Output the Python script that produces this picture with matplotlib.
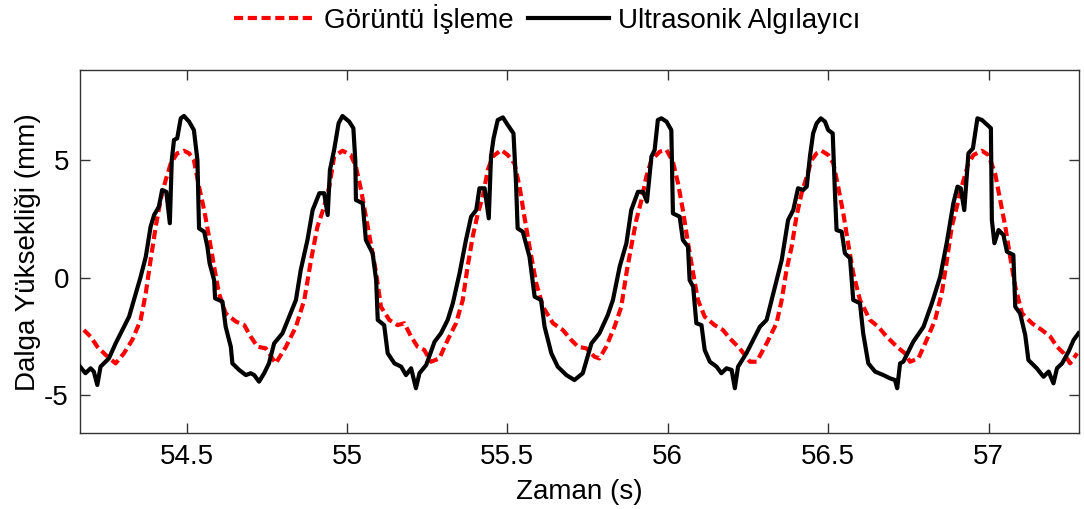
import matplotlib
matplotlib.use('Agg')
import matplotlib.pyplot as plt

# zaman (s) ve dalga yuksekligi (mm)
t_ultra = [
    54.164, 54.185, 54.201, 54.211, 54.222, 54.232, 54.258, 54.279, 54.300, 54.321,
    54.336, 54.357, 54.373, 54.388, 54.399, 54.414, 54.424, 54.437, 54.448, 54.454,
    54.461, 54.471, 54.482, 54.492, 54.508, 54.523, 54.534, 54.539, 54.555, 54.565,
    54.572, 54.586, 54.589, 54.612, 54.622, 54.638, 54.643, 54.664, 54.685, 54.700,
    54.711, 54.726, 54.742, 54.757, 54.773, 54.799, 54.820, 54.841, 54.856, 54.877,
    54.893, 54.914, 54.929, 54.940, 54.947, 54.960, 54.974, 54.986, 55.007, 55.020,
    55.026, 55.028, 55.049, 55.059, 55.080, 55.091, 55.096, 55.116, 55.127, 55.148,
    55.169, 55.184, 55.200, 55.215, 55.226, 55.247, 55.273, 55.293, 55.314, 55.330,
    55.351, 55.371, 55.387, 55.403, 55.413, 55.429, 55.442, 55.449, 55.457, 55.470,
    55.486, 55.501, 55.519, 55.527, 55.532, 55.548, 55.569, 55.585, 55.605, 55.616,
    55.637, 55.657, 55.684, 55.709, 55.735, 55.762, 55.787, 55.813, 55.829, 55.850,
    55.871, 55.886, 55.907, 55.923, 55.935, 55.949, 55.959, 55.969, 55.980, 55.996,
    56.011, 56.016, 56.037, 56.047, 56.063, 56.068, 56.079, 56.089, 56.105, 56.115,
    56.131, 56.152, 56.167, 56.183, 56.199, 56.209, 56.219, 56.245, 56.266, 56.287,
    56.308, 56.334, 56.355, 56.375, 56.391, 56.406, 56.422, 56.433, 56.443, 56.453,
    56.464, 56.477, 56.490, 56.500, 56.514, 56.521, 56.526, 56.542, 56.552, 56.568,
    56.578, 56.599, 56.609, 56.625, 56.646, 56.672, 56.693, 56.708, 56.715, 56.724,
    56.734, 56.765, 56.797, 56.823, 56.849, 56.870, 56.890, 56.903, 56.913, 56.924,
    56.937, 56.951, 56.965, 56.979, 57.007, 57.010, 57.018, 57.031, 57.046, 57.057,
    57.077, 57.083, 57.098, 57.114, 57.124, 57.150, 57.171, 57.187, 57.202, 57.213,
    57.229, 57.249, 57.265, 57.280,
]
y_ultra = [
    -3.72, -4.07, -3.86, -4.00, -4.57, -3.79, -3.44, -2.80, -2.23, -1.66,
    -0.95, 0.04, 0.89, 2.17, 2.67, 3.03, 3.74, 3.66, 2.32, 5.01,
    5.87, 5.94, 6.79, 6.89, 6.65, 6.29, 5.01, 2.10, 1.96, 1.32,
    0.61, -0.10, -0.88, -1.02, -2.09, -2.94, -3.65, -3.93, -4.15, -4.07,
    -4.15, -4.43, -4.07, -3.65, -2.80, -2.37, -1.66, -0.95, 0.33, 1.61,
    2.88, 3.60, 3.60, 2.67, 4.59, 5.44, 6.58, 6.89, 6.65, 6.37,
    5.01, 3.31, 3.17, 1.61, 1.04, -0.10, -1.80, -2.02, -3.22, -3.65,
    -3.79, -4.15, -3.86, -4.71, -4.07, -3.72, -2.73, -2.37, -1.80, -1.09,
    0.19, 1.61, 2.60, 2.88, 3.81, 3.81, 2.53, 5.16, 5.94, 6.72,
    6.83, 6.51, 6.15, 4.02, 2.10, 1.96, 0.89, -0.81, -0.95, -2.09,
    -3.22, -3.79, -4.15, -4.36, -4.07, -2.80, -2.37, -1.59, -0.95, 0.47,
    1.47, 2.88, 3.66, 3.66, 3.24, 5.16, 5.44, 6.72, 6.79, 6.65,
    6.29, 2.74, 2.60, 1.61, 1.32, -0.10, -0.38, -1.94, -2.02, -3.08,
    -3.58, -3.79, -4.07, -3.86, -3.93, -4.71, -3.79, -3.22, -2.65, -2.09,
    -1.80, -0.38, 0.75, 2.46, 2.88, 3.81, 3.74, 3.88, 5.16, 6.15,
    6.58, 6.79, 6.65, 6.29, 6.15, 3.60, 2.03, 1.96, 1.04, 0.83,
    -0.95, -1.09, -2.37, -3.65, -4.00, -4.15, -4.29, -4.36, -4.71, -3.65,
    -3.58, -2.73, -2.09, -1.09, 0.04, 1.53, 3.17, 3.88, 3.81, 2.88,
    5.30, 5.51, 6.79, 6.72, 6.37, 2.46, 1.47, 2.03, 1.82, 1.11,
    0.97, -1.24, -1.52, -2.44, -3.51, -3.86, -4.22, -4.00, -4.50, -3.86,
    -3.65, -3.15, -2.65, -2.37,
]

t_goruntu = [
    54.180, 54.201, 54.222, 54.248, 54.279, 54.305, 54.331, 54.357, 54.373, 54.388,
    54.404, 54.419, 54.435, 54.451, 54.471, 54.492, 54.508, 54.523, 54.539, 54.555,
    54.570, 54.586, 54.601, 54.622, 54.654, 54.680, 54.700, 54.721, 54.747, 54.778,
    54.810, 54.841, 54.867, 54.888, 54.908, 54.929, 54.945, 54.960, 54.986, 55.012,
    55.028, 55.044, 55.059, 55.080, 55.091, 55.106, 55.132, 55.158, 55.179, 55.200,
    55.220, 55.241, 55.262, 55.288, 55.314, 55.340, 55.361, 55.376, 55.392, 55.408,
    55.423, 55.439, 55.454, 55.481, 55.501, 55.522, 55.538, 55.553, 55.569, 55.590,
    55.611, 55.642, 55.673, 55.699, 55.720, 55.746, 55.772, 55.787, 55.808, 55.834,
    55.855, 55.871, 55.886, 55.902, 55.918, 55.933, 55.949, 55.975, 55.996, 56.016,
    56.032, 56.047, 56.063, 56.079, 56.094, 56.115, 56.146, 56.172, 56.193, 56.224,
    56.256, 56.277, 56.308, 56.339, 56.355, 56.370, 56.386, 56.401, 56.417, 56.433,
    56.448, 56.464, 56.479, 56.500, 56.516, 56.531, 56.547, 56.562, 56.578, 56.599,
    56.630, 56.656, 56.682, 56.714, 56.739, 56.755, 56.781, 56.807, 56.833, 56.854,
    56.870, 56.885, 56.901, 56.916, 56.937, 56.953, 56.979, 56.999, 57.020, 57.036,
    57.052, 57.067, 57.083, 57.104, 57.135, 57.166, 57.192, 57.213, 57.234, 57.254,
    57.276,
]
y_goruntu = [
    -2.23, -2.51, -2.94, -3.29, -3.65, -3.22, -2.65, -1.80, -0.66, 0.75,
    2.17, 3.31, 4.16, 4.87, 5.30, 5.41, 5.30, 5.01, 3.88, 2.88,
    1.75, 0.47, -0.66, -1.52, -1.87, -2.02, -2.51, -2.94, -3.01, -3.65,
    -2.94, -2.09, -0.95, 0.75, 2.17, 3.03, 3.88, 5.16, 5.41, 5.23,
    4.73, 3.74, 2.60, 1.04, 0.19, -1.24, -1.80, -2.02, -1.94, -2.51,
    -2.94, -3.08, -3.58, -3.44, -2.65, -1.94, -0.95, 0.47, 1.75, 2.74,
    3.45, 4.59, 5.16, 5.44, 5.23, 4.87, 3.88, 2.60, 1.32, -0.24,
    -1.24, -1.94, -2.23, -2.65, -2.94, -3.01, -3.37, -3.44, -2.94, -2.09,
    -1.24, 0.19, 1.32, 2.46, 3.31, 4.30, 5.01, 5.37, 5.44, 4.94,
    4.02, 2.88, 1.47, 0.19, -0.95, -1.66, -2.02, -2.23, -2.58, -3.01,
    -3.58, -3.58, -2.80, -1.94, -0.95, 0.33, 1.32, 2.60, 3.60, 4.30,
    5.01, 5.30, 5.41, 5.23, 4.87, 3.88, 2.74, 1.47, 0.19, -0.95,
    -1.80, -2.09, -2.51, -2.94, -3.22, -3.58, -3.44, -2.65, -1.80, -0.66,
    0.75, 2.17, 3.03, 3.88, 4.87, 5.23, 5.41, 5.23, 4.45, 3.31,
    2.17, 0.89, -0.38, -1.52, -1.94, -2.23, -2.51, -2.94, -3.22, -3.65,
    -3.22,
]

x_ticks = [54.5, 55, 55.5, 56, 56.5, 57]
x_tick_labels = ['54.5', '55', '55.5', '56', '56.5', '57']
y_ticks = [-5, 0, 5]

plt.rcParams['font.family'] = ['Liberation Sans', 'DejaVu Sans']
plt.rcParams['axes.unicode_minus'] = False

fig = plt.figure(figsize=(10.84, 5.09), dpi=100)
ax = fig.add_axes([0.0738, 0.1487, 0.9217, 0.7138])

ax.plot(t_goruntu, y_goruntu, color='#ff0000', lw=3.0, dashes=(2.2, 1.1),
        label='Görüntü İşleme', zorder=2)
ax.plot(t_ultra, y_ultra, color='black', lw=3.0, label='Ultrasonik Algılayıcı',
        zorder=3)

ax.set_xlim(54.168, 57.282)
ax.set_ylim(-6.63, 8.85)
ax.set_xticks(x_ticks)
ax.set_xticklabels(x_tick_labels)
ax.set_yticks(y_ticks)

ax.tick_params(direction='in', length=7.5, width=1, color='#333333',
               labelsize=20, top=True, right=True, pad=8)
for s in ax.spines.values():
    s.set_color('#333333')
    s.set_linewidth(1)

ax.set_xlabel('Zaman (s)', fontsize=20, labelpad=6)
ax.set_ylabel('Dalga Yüksekliği (mm)', fontsize=20, labelpad=2)

fig.legend(loc='center', bbox_to_anchor=(0.505, 1 - 19 / 509), ncol=2,
           frameon=False, fontsize=20, handlelength=2.9, handletextpad=0.35,
           columnspacing=0.5, borderaxespad=0)

fig.savefig('out.png', dpi=100)
